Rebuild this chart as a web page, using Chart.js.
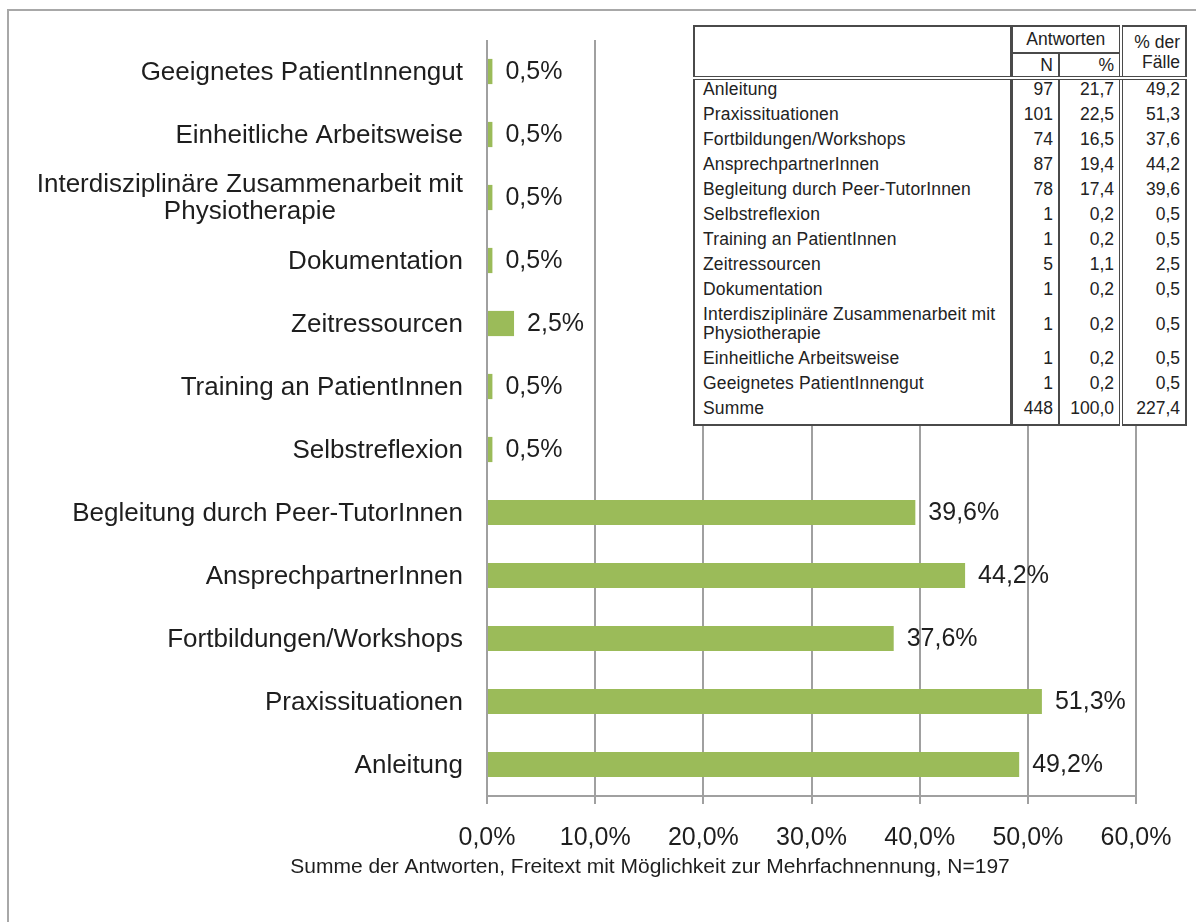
<!DOCTYPE html>
<html lang="de">
<head>
<meta charset="UTF-8">
<title>Antworten, Freitext</title>
<script src="https://cdn.jsdelivr.net/npm/chart.js@4/dist/chart.umd.min.js"></script>
<style>
  html, body { margin: 0; padding: 0; background: #fff; }
  #wrap { position: relative; width: 1196px; height: 922px; overflow: hidden; }
  #chart { position: absolute; left: 0; top: 0; }
  #frame {
    position: absolute; left: 7px; top: 9px; right: -10px; bottom: -10px;
    border-left: 2px solid #a8a8a8; border-top: 2px solid #a8a8a8;
    pointer-events: none;
  }
  #tbl {
    position: absolute; left: 693px; top: 25px; width: 492px;
    border-collapse: collapse; table-layout: fixed; background: #fff;
    border: 2px solid #4a4a4a;
    font-family: "Liberation Sans", Arial, sans-serif; font-size: 17.5px; color: #222;
  }
  #tbl th { font-weight: normal; padding: 0 5px; line-height: 19px; }
  #tbl td { padding: 0 5px 6px 5px; line-height: 19px; }
  #tbl .lab { text-align: left; padding-left: 8px; vertical-align: top; white-space: pre-line; border-right: 3px solid #4a4a4a; letter-spacing: 0.15px; }
  #tbl .num { text-align: right; vertical-align: middle; }
  #tbl .cn { border-right: 2px solid #4a4a4a; }
  #tbl .cp { border-right: 4px double #4a4a4a; }
  #tbl thead tr:first-child th { height: 25px; }
  #tbl thead tr:last-child th { height: 22px; border-bottom: 4px double #4a4a4a; }
  #tbl th.ant { text-align: center; border-bottom: 2px solid #4a4a4a; border-right: 4px double #4a4a4a; }
  #tbl th.pf { text-align: right; vertical-align: middle; border-bottom: 4px double #4a4a4a; line-height: 20px; }
  #tbl th.hl { border-right: 3px solid #4a4a4a; border-bottom: 4px double #4a4a4a; }
</style>
</head>
<body>
<div id="wrap">
  <canvas id="chart" width="1196" height="922"></canvas>
  <div id="frame"></div>
  <table id="tbl">
    <colgroup><col style="width:317px"><col style="width:48px"><col style="width:62px"><col style="width:65px"></colgroup>
    <thead>
      <tr><th rowspan="2" class="hl"></th><th colspan="2" class="ant">Antworten</th><th rowspan="2" class="pf">% der<br>Fälle</th></tr>
      <tr><th class="num cn">N</th><th class="num cp">%</th></tr>
    </thead>
    <tbody id="tbody"></tbody>
  </table>
</div>

<script>
// chart data, top to bottom
const categories = [
  'Geeignetes PatientInnengut',
  'Einheitliche Arbeitsweise',
  'Interdisziplinäre Zusammenarbeit mit\nPhysiotherapie',
  'Dokumentation',
  'Zeitressourcen',
  'Training an PatientInnen',
  'Selbstreflexion',
  'Begleitung durch Peer-TutorInnen',
  'AnsprechpartnerInnen',
  'Fortbildungen/Workshops',
  'Praxissituationen',
  'Anleitung'
];
const percentOfCases = [0.5, 0.5, 0.5, 0.5, 2.5, 0.5, 0.5, 39.6, 44.2, 37.6, 51.3, 49.2];
const xTicks = [0, 10, 20, 30, 40, 50, 60];
const axisTitle = 'Summe der Antworten, Freitext mit Möglichkeit zur Mehrfachnennung, N=197';

// inset table data
const tableLabels = [
  'Anleitung',
  'Praxissituationen',
  'Fortbildungen/Workshops',
  'AnsprechpartnerInnen',
  'Begleitung durch Peer-TutorInnen',
  'Selbstreflexion',
  'Training an PatientInnen',
  'Zeitressourcen',
  'Dokumentation',
  'Interdisziplinäre Zusammenarbeit mit\nPhysiotherapie',
  'Einheitliche Arbeitsweise',
  'Geeignetes PatientInnengut',
  'Summe'
];
const tableN = [97, 101, 74, 87, 78, 1, 1, 5, 1, 1, 1, 1, 448];
const tablePct = [21.7, 22.5, 16.5, 19.4, 17.4, 0.2, 0.2, 1.1, 0.2, 0.2, 0.2, 0.2, 100.0];
const tableCases = [49.2, 51.3, 37.6, 44.2, 39.6, 0.5, 0.5, 2.5, 0.5, 0.5, 0.5, 0.5, 227.4];

const FONT = '"Liberation Sans", Arial, sans-serif';
const textColor = '#1e1e1e';
const gridColor = '#a0a0a0';
const fmt = v => v.toFixed(1).replace('.', ',');

// build table
const tbody = document.getElementById('tbody');
tableLabels.forEach((lab, i) => {
  const tr = document.createElement('tr');
  const cells = [
    ['lab', lab],
    ['num cn', String(tableN[i])],
    ['num cp', fmt(tablePct[i])],
    ['num', fmt(tableCases[i])]
  ];
  cells.forEach(([cls, txt]) => {
    const td = document.createElement('td');
    td.className = cls;
    td.textContent = txt;
    tr.appendChild(td);
  });
  tbody.appendChild(tr);
});

// value labels, category labels and axis title
const textPlugin = {
  id: 'textPlugin',
  afterDatasetsDraw(chart) {
    const ctx = chart.ctx;
    const meta = chart.getDatasetMeta(0);
    const yScale = chart.scales.y;
    ctx.save();
    ctx.fillStyle = textColor;
    ctx.textBaseline = 'middle';

    ctx.font = '25px ' + FONT;
    ctx.textAlign = 'left';
    meta.data.forEach((bar, i) => {
      ctx.fillText(fmt(percentOfCases[i]) + '%', bar.x + 13, bar.y + 1);
    });

    ctx.font = '26px ' + FONT;
    ctx.textAlign = 'center';
    categories.forEach((lab, i) => {
      const lines = lab.split('\n');
      const w = Math.max(...lines.map(l => ctx.measureText(l).width));
      const cx = yScale.right - 24 - w / 2;
      const y0 = yScale.getPixelForTick(i) + 1 - (lines.length - 1) * 27 / 2;
      lines.forEach((l, k) => ctx.fillText(l, cx, y0 + k * 27));
    });

    ctx.font = '21px ' + FONT;
    ctx.fillText(axisTitle, 650, 867);
    ctx.restore();
  }
};

new Chart(document.getElementById('chart'), {
  type: 'bar',
  data: {
    labels: categories,
    datasets: [{
      data: percentOfCases,
      backgroundColor: '#9bbb59',
      barPercentage: 0.4,
      categoryPercentage: 1
    }]
  },
  options: {
    indexAxis: 'y',
    responsive: false,
    animation: false,
    layout: { padding: { top: 40, right: 60, bottom: 0, left: 0 } },
    plugins: { legend: { display: false }, tooltip: { enabled: false } },
    scales: {
      x: {
        type: 'linear',
        min: xTicks[0],
        max: xTicks[xTicks.length - 1],
        afterBuildTicks: scale => { scale.ticks = xTicks.map(v => ({ value: v })); },
        afterFit: scale => { scale.height = 126; },
        ticks: {
          callback: v => fmt(v) + '%',
          color: textColor,
          font: { family: FONT, size: 25 },
          padding: 19,
          maxRotation: 0
        },
        grid: { color: gridColor, lineWidth: 2, tickLength: 8, drawTicks: true },
        border: { color: gridColor, width: 2 }
      },
      y: {
        type: 'category',
        afterFit: scale => { scale.width = 487; },
        ticks: { display: false },
        grid: { display: false },
        border: { display: false }
      }
    }
  },
  plugins: [textPlugin]
});
</script>
</body>
</html>
